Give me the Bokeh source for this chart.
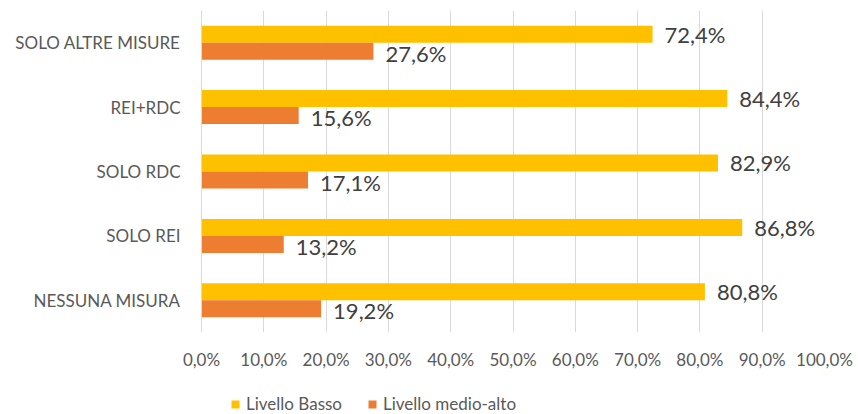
from bokeh.plotting import figure
from bokeh.models import (ColumnDataSource, Range1d, FactorRange, LabelSet, Legend, LegendItem,
                          FixedTicker)
from bokeh.layouts import column
from bokeh.core.properties import value
from bokeh.transform import dodge
from bokeh.embed import file_html
from bokeh.resources import INLINE

# ---- data ----
categories = ["NESSUNA MISURA", "SOLO REI", "SOLO RDC", "REI+RDC", "SOLO ALTRE MISURE"]
livello_basso = [80.8, 86.8, 82.9, 84.4, 72.4]
livello_medio_alto = [19.2, 13.2, 17.1, 15.6, 27.6]
series_names = ["Livello Basso", "Livello medio-alto"]
x_ticks = [0, 10, 20, 30, 40, 50, 60, 70, 80, 90, 100]

def pct(v):
    return f"{v:.1f}".replace(".", ",") + "%"

src = ColumnDataSource(dict(
    cat=categories,
    basso=livello_basso,
    medio=livello_medio_alto,
    basso_lbl=[pct(v) for v in livello_basso],
    medio_lbl=[pct(v) for v in livello_medio_alto],
))

FONT = "Lato"
YELLOW = "#FFC000"
ORANGE = "#ED7D31"

# ---- main chart ----
main = figure(width=858, height=374, y_range=FactorRange(factors=categories),
              x_range=Range1d(0, 100), output_backend="svg", toolbar_location=None,
              min_border_left=201, min_border_right=34, min_border_top=10, min_border_bottom=42)
main.outline_line_color = None
main.background_fill_color = "white"
main.border_fill_color = "white"

H = 0.264
OFF = 0.132
main.hbar(y=dodge("cat", OFF, range=main.y_range), left=0, right="basso", height=H,
          source=src, fill_color=YELLOW, line_color=None)
main.hbar(y=dodge("cat", -OFF, range=main.y_range), left=0, right="medio", height=H,
          source=src, fill_color=ORANGE, line_color=None)

main.add_layout(LabelSet(x="basso", y=dodge("cat", OFF, range=main.y_range), text="basso_lbl", source=src,
                         x_offset=12, y_offset=0, text_baseline="middle", text_font=value(FONT),
                         text_font_size="22px", text_color="#404040"))
main.add_layout(LabelSet(x="medio", y=dodge("cat", -OFF, range=main.y_range), text="medio_lbl", source=src,
                         x_offset=12, y_offset=-2, text_baseline="middle", text_font=value(FONT),
                         text_font_size="22px", text_color="#404040"))

main.ygrid.grid_line_color = None
main.xgrid.grid_line_color = "#D9D9D9"
main.xgrid.ticker = FixedTicker(ticks=x_ticks)

main.xaxis.ticker = FixedTicker(ticks=x_ticks)
main.xaxis.major_label_overrides = {t: pct(t) for t in x_ticks}
main.xaxis.axis_line_color = None
main.xaxis.major_tick_line_color = None
main.xaxis.minor_tick_line_color = None
main.xaxis.major_label_standoff = 10
main.xaxis.major_label_text_font = FONT
main.xaxis.major_label_text_font_size = "17px"
main.xaxis.major_label_text_color = "#595959"

main.yaxis.axis_line_color = "#D9D9D9"
main.yaxis.major_tick_line_color = None
main.yaxis.minor_tick_line_color = None
main.yaxis.major_label_standoff = 15
main.yaxis.major_label_text_font = FONT
main.yaxis.major_label_text_font_size = "17px"
main.yaxis.major_label_text_color = "#595959"

# ---- legend strip ----
leg = figure(width=858, height=40, x_range=Range1d(0, 1), y_range=Range1d(0, 1),
             output_backend="svg", toolbar_location=None,
             min_border_left=0, min_border_right=0, min_border_top=0, min_border_bottom=0)
leg.outline_line_color = None
leg.axis.visible = False
leg.grid.visible = False
lr1 = leg.hbar(y=[5], left=[5], right=[6], height=1, fill_color=YELLOW, line_color=None)
lr2 = leg.hbar(y=[5], left=[5], right=[6], height=1, fill_color=ORANGE, line_color=None)
legend = Legend(items=[LegendItem(label=series_names[0], renderers=[lr1]),
                       LegendItem(label=series_names[1], renderers=[lr2])],
                orientation="horizontal", location=(29, 0),
                glyph_width=10, glyph_height=10,
                label_standoff=6, spacing=25, padding=0, margin=0,
                border_line_color=None, background_fill_alpha=0,
                label_text_font=FONT, label_text_font_size="17px",
                label_text_color="#595959", label_text_baseline="middle")
leg.add_layout(legend, "center")

p = column(main, leg, spacing=0)

open("out.html", "w").write(file_html(p, INLINE))
